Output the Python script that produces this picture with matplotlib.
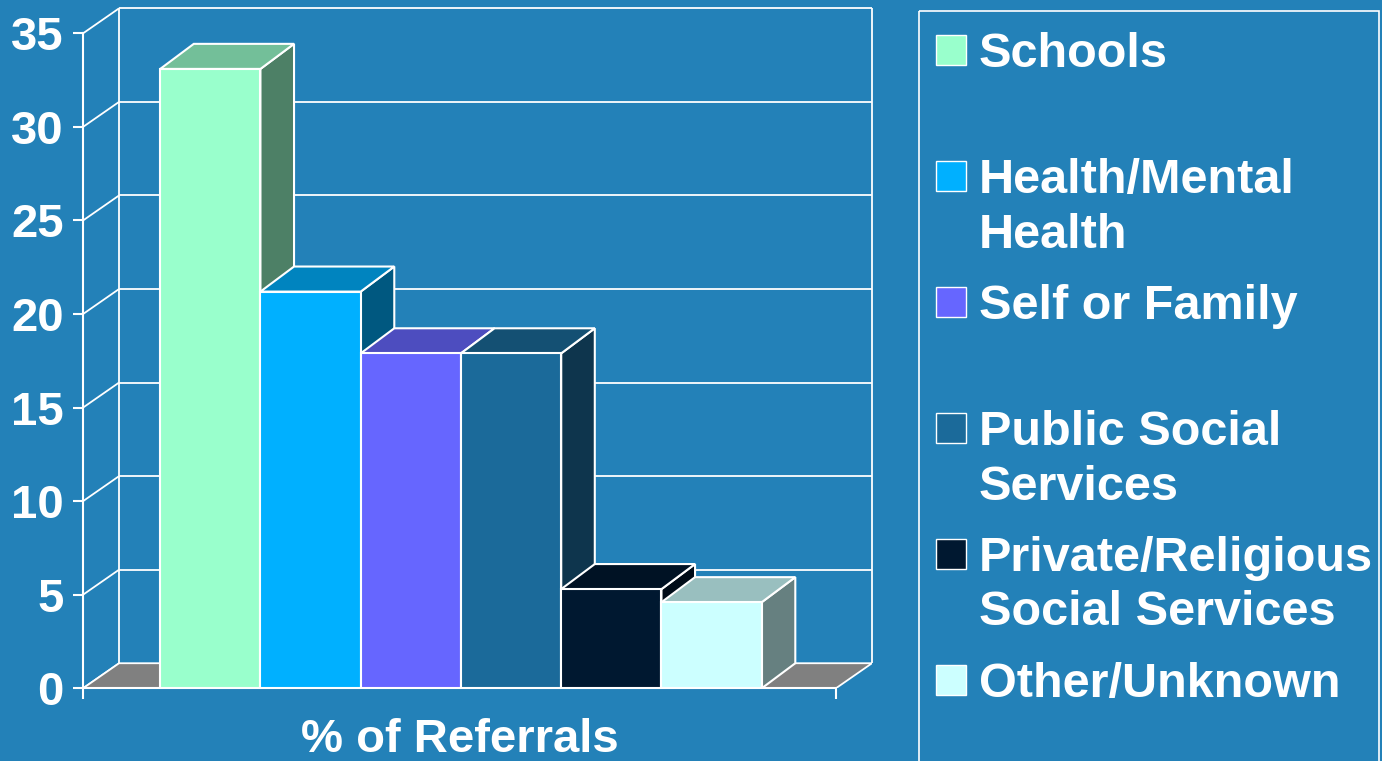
import numpy as np
import matplotlib.pyplot as plt
from matplotlib.patches import Polygon, Rectangle
from matplotlib.colors import to_rgb

plt.rcParams['font.family'] = ['Liberation Sans', 'DejaVu Sans']
plt.rcParams['font.weight'] = 'bold'

# data
categories = ['Schools', 'Health/Mental\nHealth', 'Self or Family',
              'Public Social\nServices', 'Private/Religious\nSocial Services',
              'Other/Unknown']
values = [33.1, 21.2, 17.9, 17.9, 5.3, 4.6]
colors = ['#99FFCC', '#00B0FF', '#6666FF', '#1B6A9A', '#001830', '#CCFFFF']
yticks = [0, 5, 10, 15, 20, 25, 30, 35]
xlabel = '% of Referrals'

bg = '#2381B8'
W, H = 1382, 761
fig = plt.figure(figsize=(W / 100, H / 100), dpi=100, facecolor=bg)

# fake 3d: floor front edge and depth offsets (data units)
x0, x1 = -1.27, 6.24
wall_dx, wall_dy = 0.36, 1.34
bar_dx, bar_dy = 0.335, 1.34
ymax = yticks[-1]

ax = fig.add_axes([83 / W, (H - 688.3) / H, 789 / W, 680 / H])
ax.set_facecolor('none')
ax.set_xlim(x0, x1 + wall_dx)
ax.set_ylim(0, ymax + wall_dy)

for s in ['top', 'right']:
    ax.spines[s].set_visible(False)
for s in ['left', 'bottom']:
    ax.spines[s].set_color('white')
    ax.spines[s].set_linewidth(1.5)
ax.spines['left'].set_bounds(0, ymax)
ax.spines['bottom'].set_bounds(x0, x1)

ax.set_yticks(yticks)
ax.set_yticklabels([str(t) for t in yticks])
ax.set_xticks([x0, x1])
ax.set_xticklabels([])
ax.tick_params(axis='y', colors='white', direction='out', length=7, width=1.5,
               pad=7, labelsize=34)
ax.tick_params(axis='x', colors='white', direction='out', length=8, width=1.5)

# walls
gl = dict(color='white', lw=1.3, clip_on=False, zorder=1, solid_capstyle='butt')
for v in yticks[1:]:
    ax.plot([x0 + wall_dx, x1 + wall_dx], [v + wall_dy] * 2, **gl)
for v in yticks:
    ax.plot([x0, x0 + wall_dx], [v, v + wall_dy], **gl)
ax.plot([x0 + wall_dx] * 2, [wall_dy, ymax + wall_dy], **gl)
ax.plot([x1 + wall_dx] * 2, [wall_dy, ymax + wall_dy], **gl)

floor = Polygon([(x0, 0), (x1, 0), (x1 + wall_dx, wall_dy), (x0 + wall_dx, wall_dy)],
                closed=True, fc='#808080', ec='white', lw=1.3, zorder=2)
ax.add_patch(floor)

# bars
xs = np.arange(len(values))
for x, v, c in zip(xs, values, colors):
    rgb = np.array(to_rgb(c))
    l, r = x - 0.5, x + 0.5
    side = Polygon([(r, 0), (r + bar_dx, bar_dy), (r + bar_dx, v + bar_dy), (r, v)],
                   closed=True, fc=rgb * 0.5, ec='white', lw=1.5, zorder=3)
    top = Polygon([(l, v), (r, v), (r + bar_dx, v + bar_dy), (l + bar_dx, v + bar_dy)],
                  closed=True, fc=rgb * 0.75, ec='white', lw=1.5, zorder=3.5)
    ax.add_patch(side)
    ax.add_patch(top)
ax.bar(xs, values, width=1, color=colors, edgecolor='white', linewidth=1.5, zorder=4)

ax.text((x0 + x1) / 2, -3.38, xlabel, color='white', fontsize=34,
        ha='center', va='baseline')

# legend
lax = fig.add_axes([0, 0, 1, 1])
lax.set_xlim(0, W)
lax.set_ylim(H, 0)
lax.axis('off')
lax.add_patch(Rectangle((919, 10.7), 460, 800, fc='none', ec='white', lw=1.2))
for i, (name, c) in enumerate(zip(categories, colors)):
    cy = 50 + i * 125.9
    lax.add_patch(Rectangle((936, cy - 15), 30, 30, fc=c, ec='white', lw=1))
    lax.text(979, cy - 18, name, color='white', fontsize=35, ha='left',
             va='top', linespacing=1.28)

fig.savefig('out.png', dpi=100, facecolor=bg)
